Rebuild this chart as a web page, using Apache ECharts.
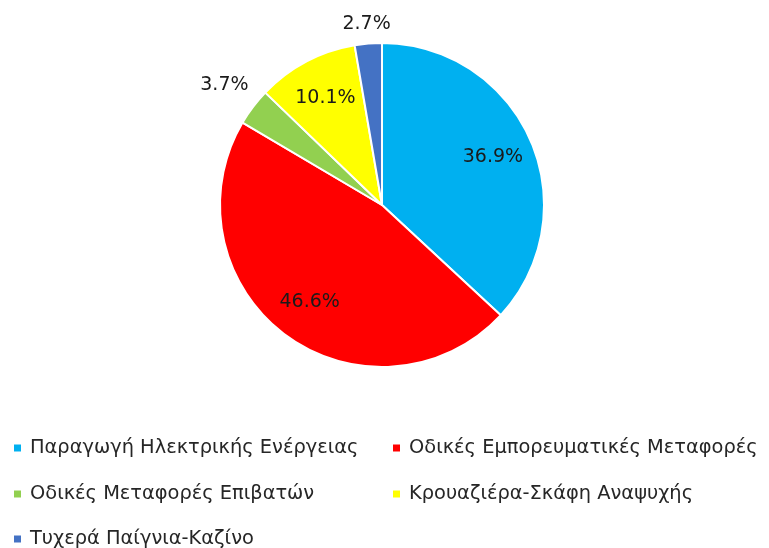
<!DOCTYPE html>
<html><head><meta charset="utf-8">
<script src="https://cdn.jsdelivr.net/npm/echarts@6/dist/echarts.min.js"></script>
<style>html,body{margin:0;padding:0;background:#fff}#c{width:769px;height:548px}</style>
</head><body><div id="c"></div>
<script>
const categories = ["Παραγωγή Ηλεκτρικής Ενέργειας","Οδικές Εμπορευματικές Μεταφορές","Οδικές Μεταφορές Επιβατών","Κρουαζιέρα-Σκάφη Αναψυχής","Τυχερά Παίγνια-Καζίνο"];
const values = [36.9, 46.6, 3.7, 10.1, 2.7];
const colors = ["#00B0F0","#FF0000","#92D050","#FFFF00","#4472C4"];
const labelGroup = [0, 0, 1, 0, 2]; // 0: inside, 1/2: outside

const FONT = "DejaVu Sans";
const chart = echarts.init(document.getElementById('c'));
const mk = (g) => categories.map((n,i)=>({name:n,value:values[i],label:{show:labelGroup[i]===g}}));
const labelStyle = {position:'inside',formatter:'{c}%',color:'#1a1a1a',fontSize:19,fontFamily:FONT};
const legendPos = [[7,433],[386,433],[7,479],[386,479],[7,524]];
const legends = categories.map((n,i)=>({data:[n],left:legendPos[i][0],top:legendPos[i][1],itemWidth:9,itemHeight:9,icon:'rect',
  textStyle:{fontSize:19.4,fontFamily:FONT,color:'#262626',lineHeight:20,padding:[0,0,0,3]},selectedMode:false}));
const ghost = (r,g)=>({type:'pie',center:[382,205],radius:[0,r],startAngle:90,clockwise:true,silent:true,
     itemStyle:{color:'rgba(0,0,0,0)',borderWidth:0},label:labelStyle,labelLine:{show:false},
     emphasis:{disabled:true},data:mk(g)});
chart.setOption({
  animation:false,
  color:colors,
  legend:legends,
  series:[
    {type:'pie',center:[382,205],radius:[0,162],startAngle:90,clockwise:true,
     itemStyle:{borderColor:'#fff',borderWidth:2},label:{show:false},labelLine:{show:false},
     emphasis:{disabled:true},data:mk(-1)},
    ghost(236,0), ghost(390,1), ghost(358,2)
  ]
});
</script></body></html>
